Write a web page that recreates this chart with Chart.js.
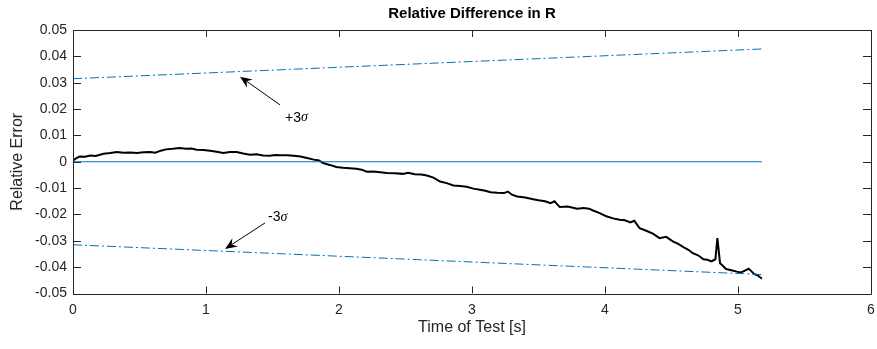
<!DOCTYPE html>
<html>
<head>
<meta charset="utf-8">
<script src="https://cdn.jsdelivr.net/npm/chart.js@4"></script>
<style>
html,body{margin:0;padding:0;background:#fff;}
#c{display:block;}
</style>
</head>
<body>
<canvas id="c" width="877" height="349"></canvas>
<script>
// ---- data ----
const timeS = [0.00,0.02,0.05,0.09,0.13,0.17,0.23,0.28,0.33,0.38,0.43,0.48,0.53,0.58,0.62,0.66,0.70,0.75,0.80,0.85,0.89,0.93,0.98,1.03,1.08,1.13,1.18,1.23,1.28,1.33,1.38,1.43,1.48,1.52,1.56,1.61,1.66,1.71,1.76,1.81,1.85,1.88,1.93,1.98,2.03,2.08,2.13,2.17,2.21,2.26,2.31,2.36,2.42,2.48,2.52,2.57,2.62,2.66,2.71,2.76,2.81,2.86,2.91,2.96,3.01,3.06,3.10,3.14,3.19,3.24,3.27,3.30,3.34,3.40,3.46,3.50,3.55,3.59,3.62,3.66,3.72,3.79,3.84,3.88,3.91,3.96,4.01,4.06,4.11,4.15,4.19,4.22,4.26,4.31,4.36,4.41,4.46,4.51,4.55,4.59,4.63,4.66,4.70,4.74,4.77,4.80,4.83,4.845,4.865,4.88,4.91,4.95,4.99,5.02,5.04,5.08,5.10,5.12,5.15,5.18];
const relErr = [0.0004,0.0012,0.0020,0.0019,0.0024,0.0022,0.0030,0.0033,0.0037,0.0034,0.0035,0.0033,0.0036,0.0037,0.0034,0.0042,0.0047,0.0049,0.0052,0.0049,0.0050,0.0046,0.0045,0.0042,0.0038,0.0033,0.0037,0.0037,0.0031,0.0027,0.0028,0.0024,0.0023,0.0026,0.0025,0.0025,0.0023,0.0020,0.0014,0.0008,0.0005,-0.0005,-0.0012,-0.0020,-0.0023,-0.0025,-0.0027,-0.0030,-0.0038,-0.0037,-0.0040,-0.0043,-0.0044,-0.0046,-0.0042,-0.0047,-0.0048,-0.0052,-0.0060,-0.0075,-0.0081,-0.0090,-0.0092,-0.0095,-0.0102,-0.0106,-0.0110,-0.0116,-0.0118,-0.0119,-0.0113,-0.0125,-0.0132,-0.0136,-0.0142,-0.0146,-0.0150,-0.0157,-0.0150,-0.0172,-0.0170,-0.0178,-0.0176,-0.0178,-0.0185,-0.0195,-0.0207,-0.0215,-0.0220,-0.0222,-0.0230,-0.0224,-0.0252,-0.0262,-0.0273,-0.0290,-0.0285,-0.0302,-0.0312,-0.0324,-0.0335,-0.0347,-0.0355,-0.0370,-0.0372,-0.0378,-0.0370,-0.0290,-0.0385,-0.0392,-0.0407,-0.0412,-0.0417,-0.0420,-0.0416,-0.0406,-0.0415,-0.0426,-0.0432,-0.0444];
const boundTime = [0, 5.18];
const plus3Sigma = [0.0315, 0.0428];
const minus3Sigma = [-0.0315, -0.0428];
const zeroLine = [0, 0];
const xTickValues = [0,1,2,3,4,5,6];
const xTickLabels = ['0','1','2','3','4','5','6'];
const yTickValues = [-0.05,-0.04,-0.03,-0.02,-0.01,0,0.01,0.02,0.03,0.04,0.05];
const yTickLabels = ['-0.05','-0.04','-0.03','-0.02','-0.01','0','0.01','0.02','0.03','0.04','0.05'];
const chartTitle = 'Relative Difference in R';
// annotations: [tipX, tipY, tailX, tailY, textX, textY, prefix]
const plusNote = [1.256, 0.0323, 1.556, 0.0216, 1.594, 0.0167, '+3'];
const minusNote = [1.143, -0.0331, 1.444, -0.0232, 1.466, -0.0209, '-3'];

const pts = (xs, ys) => xs.map((x, i) => ({x: x, y: ys[i]}));
const AX = '#262626';
const BLUE = '#0072BD';
const FONT = '"Liberation Sans", Arial, sans-serif';

const boxPlugin = {
  id: 'boxPlugin',
  afterDatasetsDraw(chart) {
    const {ctx, chartArea: a, scales: {x, y}} = chart;
    ctx.save();
    ctx.strokeStyle = AX;
    ctx.lineWidth = 1;
    ctx.beginPath();
    ctx.rect(Math.round(a.left) + 0.5, Math.round(a.top) + 0.5, Math.round(a.right - a.left), Math.round(a.bottom - a.top));
    ctx.stroke();
    ctx.beginPath();
    xTickValues.forEach(v => {
      const px = Math.round(x.getPixelForValue(v)) + 0.5;
      ctx.moveTo(px, a.bottom); ctx.lineTo(px, a.bottom - 7);
      ctx.moveTo(px, a.top); ctx.lineTo(px, a.top + 7);
    });
    yTickValues.forEach(v => {
      const py = Math.round(y.getPixelForValue(v)) + 0.5;
      ctx.moveTo(a.left, py); ctx.lineTo(a.left + 8, py);
      ctx.moveTo(a.right, py); ctx.lineTo(a.right - 8, py);
    });
    ctx.stroke();

    // title centred over the plot area
    ctx.fillStyle = '#000';
    ctx.textAlign = 'center';
    ctx.textBaseline = 'middle';
    ctx.font = 'bold 15px ' + FONT;
    ctx.fillText(chartTitle, (a.left + a.right) / 2, a.top - 16);

    // annotations
    [plusNote, minusNote].forEach(n => {
      const tx = x.getPixelForValue(n[0]), ty = y.getPixelForValue(n[1]);
      const sx = x.getPixelForValue(n[2]), sy = y.getPixelForValue(n[3]);
      const ang = Math.atan2(ty - sy, tx - sx);
      const L = 12, W = 5, back = 8;
      ctx.strokeStyle = '#000';
      ctx.fillStyle = '#000';
      ctx.lineWidth = 1;
      ctx.beginPath();
      ctx.moveTo(sx, sy);
      ctx.lineTo(tx - Math.cos(ang) * back, ty - Math.sin(ang) * back);
      ctx.stroke();
      const bx = tx - Math.cos(ang) * L, by = ty - Math.sin(ang) * L;
      const mx = tx - Math.cos(ang) * back, my = ty - Math.sin(ang) * back;
      ctx.beginPath();
      ctx.moveTo(tx, ty);
      ctx.lineTo(bx + Math.sin(ang) * W, by - Math.cos(ang) * W);
      ctx.lineTo(mx, my);
      ctx.lineTo(bx - Math.sin(ang) * W, by + Math.cos(ang) * W);
      ctx.closePath();
      ctx.fill();
      const lx = x.getPixelForValue(n[4]), ly = y.getPixelForValue(n[5]);
      ctx.fillStyle = '#000';
      ctx.textBaseline = 'middle';
      ctx.textAlign = 'left';
      ctx.font = '14px ' + FONT;
      ctx.fillText(n[6], lx, ly);
      const w = ctx.measureText(n[6]).width;
      ctx.font = 'italic 14px "Liberation Serif", "Times New Roman", serif';
      ctx.fillText('σ', lx + w, ly);
    });
    ctx.restore();
  }
};

new Chart(document.getElementById('c'), {
  type: 'line',
  data: {
    datasets: [
      {data: pts(boundTime, zeroLine), borderColor: BLUE, borderWidth: 1, pointRadius: 0, fill: false},
      {data: pts(boundTime, plus3Sigma), borderColor: BLUE, borderWidth: 1, borderDash: [9,3,2,3], pointRadius: 0, fill: false},
      {data: pts(boundTime, minus3Sigma), borderColor: BLUE, borderWidth: 1, borderDash: [9,3,2,3], pointRadius: 0, fill: false},
      {data: pts(timeS, relErr), borderColor: '#000', borderWidth: 2, pointRadius: 0, fill: false, tension: 0}
    ]
  },
  options: {
    responsive: false,
    animation: false,
    devicePixelRatio: 1,
    layout: {padding: {left: 0, right: 6, top: 30, bottom: 0}},
    plugins: {
      legend: {display: false},
      tooltip: {enabled: false},
      title: {display: false}
    },
    scales: {
      x: {
        type: 'linear', min: 0, max: 6,
        afterBuildTicks: s => { s.ticks = xTickValues.map(v => ({value: v})); },
        afterFit: s => { s.height = 55.5; s.paddingLeft = 0; s.paddingRight = 0; },
        ticks: {
          color: AX, padding: 8,
          font: {family: FONT, size: 14},
          callback: v => xTickLabels[xTickValues.indexOf(v)],
          maxRotation: 0
        },
        grid: {display: true, drawOnChartArea: false, drawTicks: false},
        border: {display: false},
        title: {
          display: true, text: 'Time of Test [s]', color: AX,
          font: {family: FONT, size: 16},
          padding: {top: 0, bottom: 12}
        }
      },
      y: {
        type: 'linear', min: -0.05, max: 0.05,
        afterBuildTicks: s => { s.ticks = yTickValues.map(v => ({value: v})); },
        afterFit: s => { s.width = 73; s.paddingTop = 0; s.paddingBottom = 0; },
        ticks: {
          color: AX, padding: 6,
          font: {family: FONT, size: 14},
          callback: (v, i) => yTickLabels[i]
        },
        grid: {display: true, drawOnChartArea: false, drawTicks: false},
        border: {display: false},
        title: {
          display: true, text: 'Relative Error', color: AX,
          font: {family: FONT, size: 16},
          padding: {top: 8, bottom: 0}
        }
      }
    }
  },
  plugins: [boxPlugin]
});
</script>
</body>
</html>
